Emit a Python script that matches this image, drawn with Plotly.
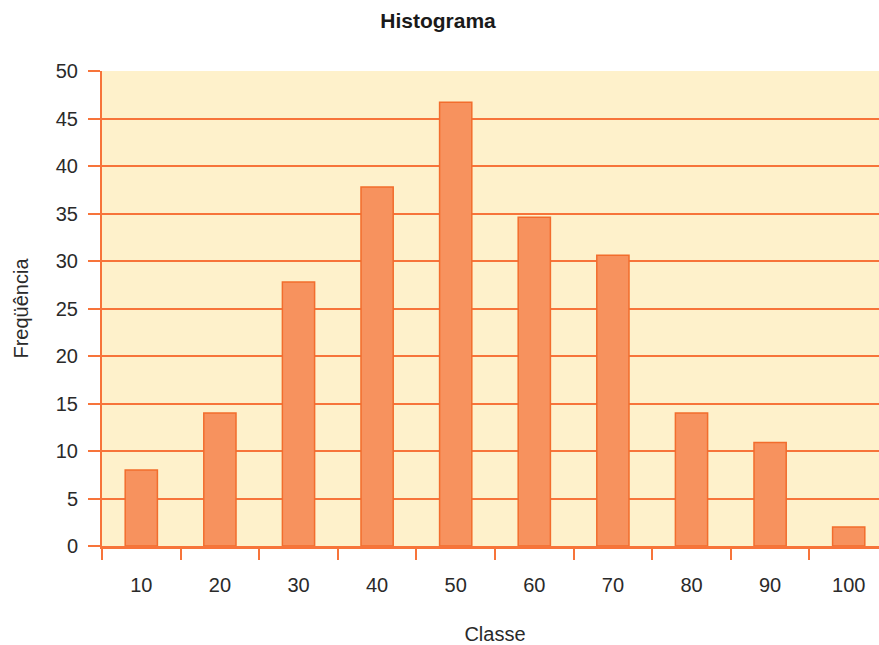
import plotly.graph_objects as go

categories = ["10", "20", "30", "40", "50", "60", "70", "80", "90", "100"]
frequencies = [8, 14, 27.8, 37.8, 46.7, 34.6, 30.6, 14, 10.9, 2]

orange = "#f7743a"
fig = go.Figure(go.Bar(
    x=categories, y=frequencies,
    marker=dict(color="#f7925e", line=dict(color="#f26d2d", width=1.5)),
    width=0.41,
))
font = "Liberation Sans, Arial, Helvetica, sans-serif"
fig.update_layout(
    width=888, height=645,
    margin=dict(l=102, r=0, t=71, b=99),
    paper_bgcolor="white",
    plot_bgcolor="#fef1cb",
    font=dict(family=font, size=20, color="#2a2a2a"),
    title=dict(text="<b>Histograma</b>", x=438 / 888, xanchor="center", y=0.968, yanchor="middle",
               font=dict(size=21, color="#1a1a1a")),
    showlegend=False,
)
fig.update_xaxes(
    type="category", tickson="boundaries",
    ticks="outside", ticklen=11, tickcolor=orange, tickwidth=1.5,
    showline=True, linecolor=orange, linewidth=2.5,
    showgrid=False,
    ticklabelstandoff=19,
    title=dict(text="Classe", standoff=33, font=dict(size=20)),
    tickfont=dict(size=20),
)
fig.update_yaxes(
    range=[0, 50], dtick=5,
    ticks="outside", ticklen=12, tickcolor=orange, tickwidth=1.5,
    showline=True, linecolor=orange, linewidth=2,
    showgrid=True, gridcolor=orange, gridwidth=1.5,
    zeroline=False,
    ticklabelstandoff=6,
    title=dict(text="Freqüência", standoff=22, font=dict(size=20)),
    tickfont=dict(size=20),
)
fig.write_html("out.html", config={"displayModeBar": False},
               post_script="document.body.style.margin='0';document.body.style.overflow='hidden';")
